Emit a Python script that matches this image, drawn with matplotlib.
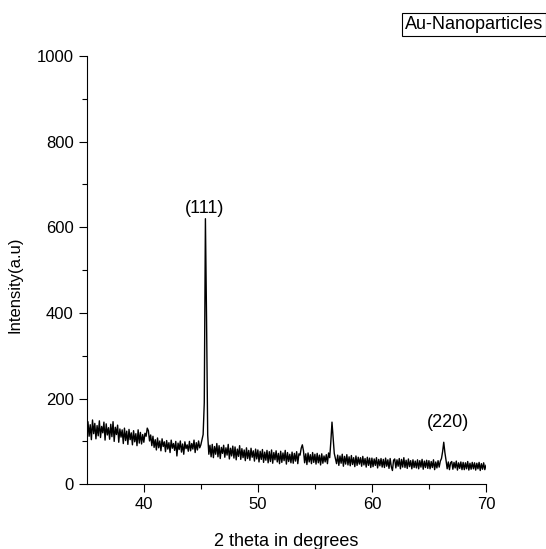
import matplotlib
matplotlib.use('Agg')
import matplotlib.pyplot as plt
import numpy as np

plt.rcParams['font.family'] = ['Liberation Sans', 'DejaVu Sans']

# XRD scan, 35.0 .. 70.0 deg in 0.1 deg steps (one row per degree)
intensity = [
    108, 146, 112, 139, 104, 150, 118, 142, 106, 137,   # 35
    113, 148, 109, 135, 120, 145, 103, 141, 115, 132,   # 36
    105, 140, 111, 146, 100, 133, 116, 138, 98, 129,    # 37
    110, 127, 95, 131, 102, 124, 93, 128, 104, 120,     # 38
    92, 125, 99, 118, 90, 127, 96, 121, 94, 116,        # 39
    98, 119, 112, 131, 125, 101, 115, 90, 112, 86,      # 40
    104, 80, 108, 85, 101, 78, 106, 88, 99, 76,         # 41
    102, 82, 97, 74, 103, 84, 95, 79, 100, 66,          # 42
    96, 81, 101, 75, 94, 70, 99, 83, 92, 77,            # 43
    100, 78, 95, 82, 103, 74, 97, 80, 101, 85,          # 44
    92, 104, 116, 190, 620, 385, 115, 70, 91, 64,       # 45
    93, 62, 88, 70, 95, 64, 90, 60, 86, 72,             # 46
    91, 63, 85, 68, 93, 59, 84, 66, 89, 61,             # 47
    87, 57, 82, 65, 90, 58, 83, 62, 80, 55,             # 48
    85, 60, 79, 56, 84, 63, 78, 54, 82, 59,             # 49
    80, 52, 77, 58, 81, 51, 75, 56, 79, 50,             # 50
    76, 53, 80, 49, 74, 57, 78, 52, 72, 48,             # 51
    77, 51, 73, 55, 79, 47, 74, 53, 70, 50,             # 52
    75, 49, 72, 54, 76, 48, 71, 68, 84, 92,             # 53
    78, 50, 71, 46, 73, 52, 69, 48, 74, 51,             # 54
    70, 47, 72, 50, 68, 45, 71, 49, 66, 52,             # 55
    69, 48, 73, 62, 100, 145, 110, 72, 60, 48,          # 56
    68, 44, 66, 49, 70, 42, 65, 47, 69, 45,             # 57
    64, 43, 67, 46, 62, 41, 66, 44, 63, 47,             # 58
    62, 42, 65, 45, 60, 40, 63, 44, 61, 39,             # 59
    61, 41, 59, 44, 62, 38, 58, 43, 60, 40,             # 60
    58, 39, 61, 42, 57, 37, 60, 41, 32, 56,             # 61
    59, 38, 57, 42, 60, 36, 58, 40, 62, 39,             # 62
    56, 37, 59, 41, 55, 36, 57, 39, 54, 38,             # 63
    57, 36, 55, 40, 58, 35, 54, 39, 56, 37,             # 64
    55, 36, 53, 39, 57, 34, 52, 38, 55, 40,             # 65
    54, 60, 76, 98, 74, 56, 36, 52, 34, 50,             # 66
    53, 35, 51, 38, 54, 33, 50, 37, 52, 34,             # 67
    51, 34, 50, 36, 53, 33, 49, 35, 51, 36,             # 68
    50, 33, 49, 36, 51, 32, 48, 35, 50, 34,             # 69
    44,                                                 # 70
]
two_theta = np.linspace(35, 70, len(intensity))

peak_labels = ['(111)', '(220)']
peak_pos = [45.35, 66.7]
peak_height = [645, 143]

x_ticks = [40, 50, 60, 70]
y_ticks = [0, 200, 400, 600, 800, 1000]

fig = plt.figure(figsize=(5.46, 5.49), dpi=100)
ax = fig.add_axes([0.159, 0.118, 0.731, 0.78])

ax.plot(two_theta, intensity, color='black', lw=1.0)

for lab, px, py in zip(peak_labels, peak_pos, peak_height):
    ax.text(px, py, lab, ha='center', va='center', fontsize=13)

ax.set_xlim(35, 70)
ax.set_ylim(0, 1000)
ax.set_xticks(x_ticks)
ax.set_yticks(y_ticks)
ax.set_xticks([45, 55, 65], minor=True)
ax.set_yticks([100, 300, 500, 700, 900], minor=True)
ax.tick_params(which='major', direction='out', length=6, width=0.8, labelsize=12)
ax.tick_params(which='minor', direction='out', length=3.5, width=0.8)
for s in ['top', 'right']:
    ax.spines[s].set_visible(False)

ax.set_xlabel('2 theta in degrees', fontsize=13)
ax.xaxis.set_label_coords(0.5, -0.115)
ax.set_ylabel('Intensity(a.u)', fontsize=12)
ax.yaxis.set_label_coords(-0.162, 0.465)

fig.text(0.995, 0.955, 'Au-Nanoparticles', ha='right', va='center', fontsize=13,
         bbox=dict(boxstyle='square,pad=0.15', fc='white', ec='black', lw=0.8))

fig.savefig('out.png', dpi=100)
